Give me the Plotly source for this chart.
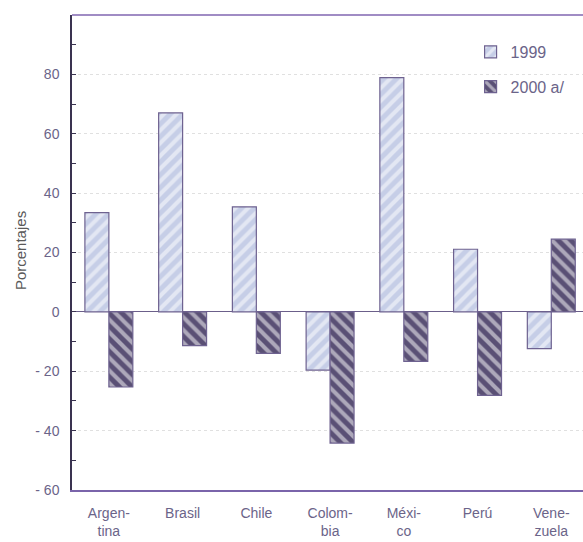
import plotly.graph_objects as go

categories = ["Argen-<br>tina", "Brasil", "Chile", "Colom-<br>bia", "Méxi-<br>co", "Perú", "Vene-<br>zuela"]
values_1999 = [33.4, 67.0, 35.4, -19.6, 78.9, 21.1, -12.4]
values_2000 = [-25.3, -11.4, -14.0, -44.2, -16.7, -28.1, 24.5]
ytick_vals = [-60, -40, -20, 0, 20, 40, 60, 80]
ytick_text = ["- 60", "- 40", "- 20", "0", "20", "40", "60", "80"]

FONT = "Liberation Sans, Arial, sans-serif"
TXT = "#6b6489"

fig = go.Figure()
fig.add_trace(go.Bar(
    x=categories, y=values_1999, name="1999", legendgroup="a",
    marker=dict(color="#c6cee7", line=dict(color="#6e6290", width=1.2),
                pattern=dict(shape="/", fgcolor="white", size=9, solidity=0.45)),
))
fig.add_trace(go.Bar(
    x=categories, y=values_2000, name="2000 a/", legendgroup="b",
    marker=dict(color="#5a5075", line=dict(color="#6e6290", width=1.2),
                pattern=dict(shape="\\", fgcolor="white", size=9, solidity=0.45)),
))

fig.update_layout(
    width=583, height=542,
    margin=dict(l=72, r=0, t=15, b=52),
    paper_bgcolor="white", plot_bgcolor="white",
    barmode="group", bargap=0.35, bargroupgap=0,
    font=dict(family=FONT, color=TXT, size=13),
    showlegend=True,
    legend=dict(x=0.78, y=0.958, xanchor="left", yanchor="top",
                font=dict(size=16, color=TXT), tracegroupgap=11,
                itemwidth=30, bgcolor="rgba(0,0,0,0)"),
    xaxis=dict(range=[-0.5, 6.43], showline=True, linecolor="#7a64aa", linewidth=2,
               ticks="", showgrid=False, tickfont=dict(size=14, color=TXT),
               ticklabelstandoff=9, fixedrange=True),
    yaxis=dict(range=[-60, 100], tickvals=ytick_vals, ticktext=ytick_text,
               showline=True, linecolor="#3a3350", linewidth=1.5,
               ticks="inside", ticklen=4, tickcolor="#3a3350",
               minor=dict(dtick=10, tick0=0, ticks="inside", ticklen=4, tickcolor="#3a3350", showgrid=False),
               showgrid=True, gridcolor="#e0e0e0", griddash="dot", gridwidth=1,
               zeroline=True, zerolinecolor="#6b5f8a", zerolinewidth=1.2,
               tickfont=dict(size=14, color=TXT), ticklabelstandoff=8, fixedrange=True),
    annotations=[dict(text="Porcentajes", textangle=-90, xref="paper", yref="paper",
                      x=(20 - 72) / 511, y=0.503, xanchor="center", yanchor="middle",
                      showarrow=False, font=dict(size=15, color="#5a5a5a", family=FONT))],
    shapes=[dict(type="line", xref="paper", yref="paper", x0=0, x1=1, y0=1, y1=1,
                 line=dict(color="#a08cc4", width=2))],
)

fig.write_html("out.html", config={"displayModeBar": False},
               post_script="document.body.style.margin='0px';document.body.style.overflow='hidden';")
